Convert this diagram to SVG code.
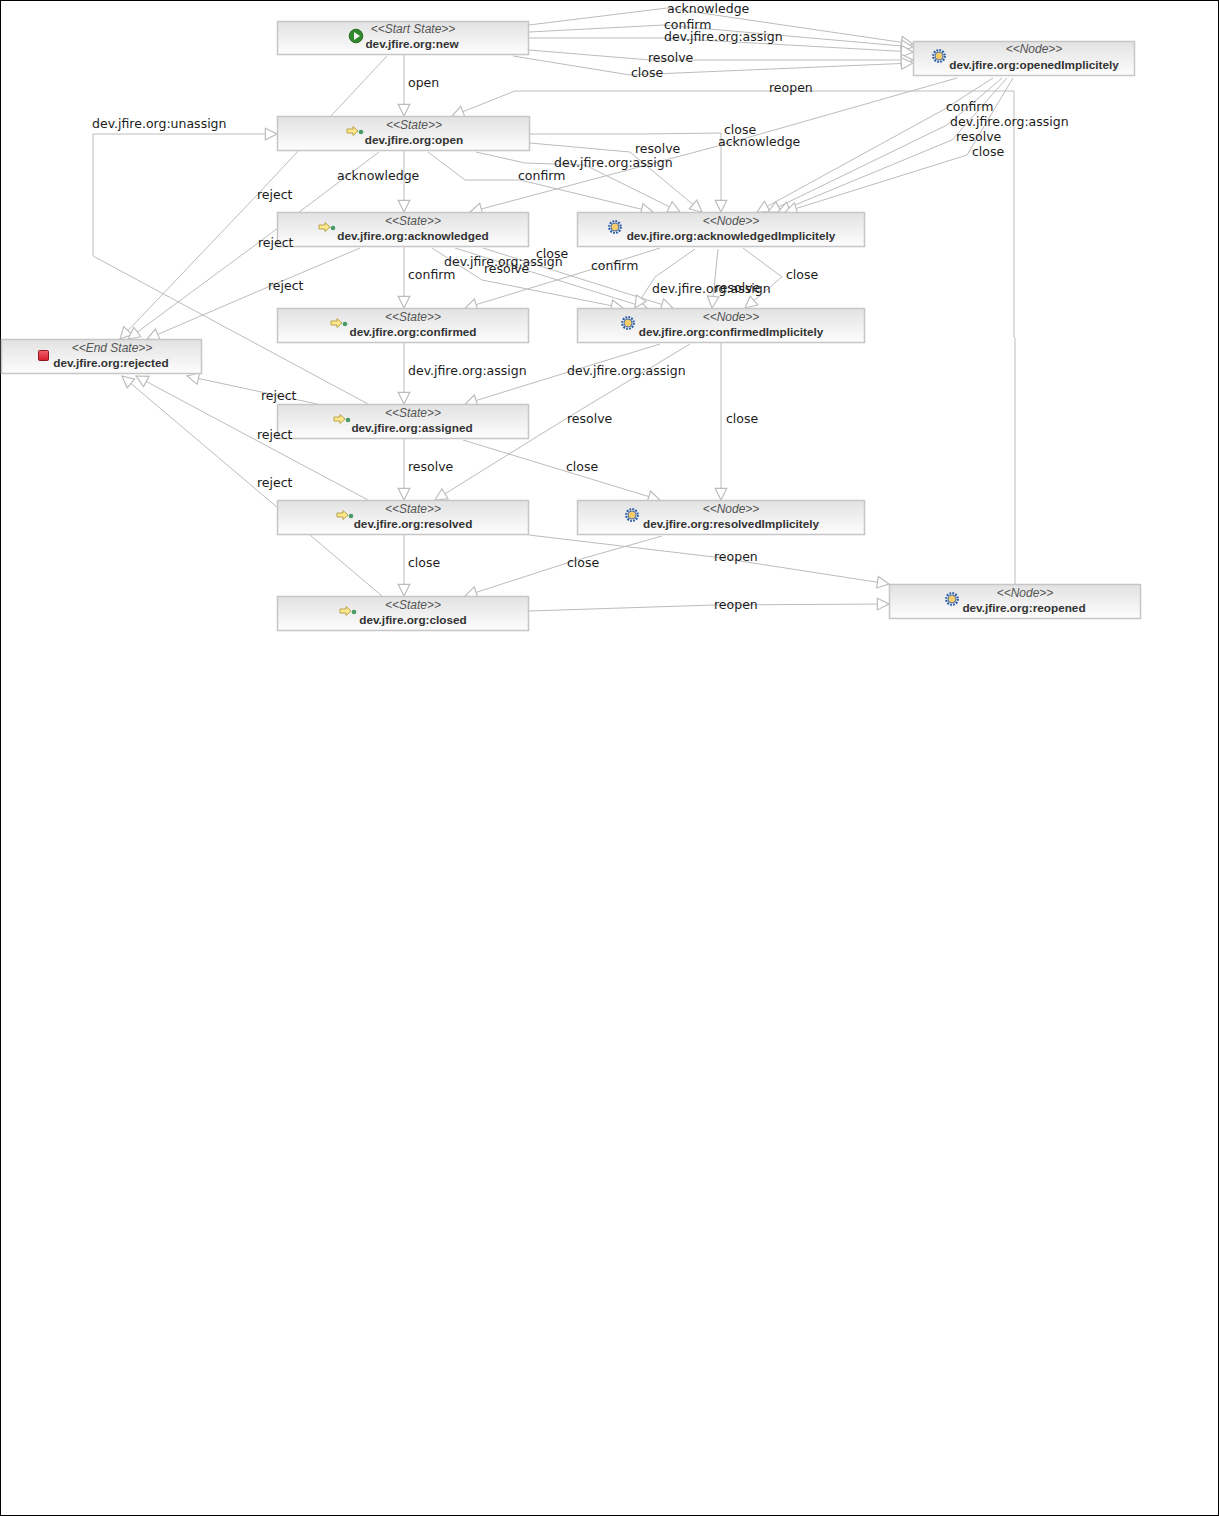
<svg xmlns="http://www.w3.org/2000/svg" xmlns:xlink="http://www.w3.org/1999/xlink" width="1219" height="1516" viewBox="0 0 1219 1516">
<style>
.n{fill:url(#g);stroke:#c6c6c6;stroke-width:1.5}
.s{font:italic 12px "Liberation Sans",Arial,sans-serif;fill:#555;text-anchor:middle}
.t{font:bold 11.750px "Liberation Sans",Arial,sans-serif;fill:#333;text-anchor:middle;transform:translateY(-1px)}
.l{font:12.500px "DejaVu Sans",sans-serif;fill:#1c1c1c}
#edges polyline{fill:none;stroke:#bcbcbc;stroke-width:1;marker-end:url(#a)}
</style>
<defs>
<linearGradient id="g" x1="0" y1="0" x2="0" y2="1"><stop offset="0" stop-color="#e2e2e2"/><stop offset="1" stop-color="#fdfdfd"/></linearGradient>
<linearGradient id="r" x1="0" y1="0" x2="0" y2="1"><stop offset="0" stop-color="#f0606a"/><stop offset="1" stop-color="#d81c2c"/></linearGradient>
<marker id="a" markerUnits="userSpaceOnUse" markerWidth="14" markerHeight="14" refX="11" refY="6" orient="auto" viewBox="0 0 12 12"><path d="M1 1L11 6L1 11Z" fill="#fff" stroke="#bcbcbc"/></marker>
<g id="start"><circle r="6.800" fill="#2f8a2f" stroke="#2a6a2a"/><path d="M-2-4L4 0L-2 4Z" fill="#f4f4f4"/></g>
<g id="state"><path d="M-7-2H-1V-4.500L4 0L-1 4.500V2H-7Z" fill="#fde98c" stroke="#a89030" stroke-width=".8"/><circle cx="7" cy="1" r="2.300" fill="#4a9a68"/></g>
<g id="node"><circle r="5.800" fill="none" stroke="#2a5ca8" stroke-width="2.200" stroke-dasharray="1.800 1.200"/><circle r="4" fill="#f6cc6a" stroke="#2a5ca8" stroke-width=".8"/></g>
<g id="end"><rect x="-5" y="-5" width="10" height="10" rx="1" fill="url(#r)" stroke="#8a1a22"/></g>
</defs>
<rect width="1219" height="1516" fill="#fff"/>
<rect x=".5" y=".5" width="1218" height="1515" fill="none" stroke="#000"/>
<g id="edges">
<polyline points="529,25 667,8 913,44"/>
<polyline points="529,32 664,25 913,47"/>
<polyline points="529,38 664,38 913,52"/>
<polyline points="529,50 650,60 913,60"/>
<polyline points="513,56 630,75 913,63"/>
<polyline points="404,55 404,116"/>
<polyline points="387,56 258,194 120,339"/>
<polyline points="1015,584 1015,338 1014,337 1014,91 515,91 452,116"/>
<polyline points="368,404 93,256 93,134 277,134"/>
<polyline points="530,134 640,134 721,133 721,212"/>
<polyline points="530,143 630,152 702,212"/>
<polyline points="476,152 525,163 585,165 680,212"/>
<polyline points="428,152 465,180 520,180 653,212"/>
<polyline points="404,151 404,212"/>
<polyline points="379,152 258,243 128,339"/>
<polyline points="957,78 718,146 470,212"/>
<polyline points="993,78 943,110 757,212"/>
<polyline points="1002,78 947,125 768,212"/>
<polyline points="1007,78 952,140 778,212"/>
<polyline points="1013,78 967,155 785,212"/>
<polyline points="404,247 404,308"/>
<polyline points="360,248 268,287 147,339"/>
<polyline points="432,248 482,280 623,308"/>
<polyline points="455,248 647,308"/>
<polyline points="483,248 673,308"/>
<polyline points="660,248 580,273 465,308"/>
<polyline points="695,249 655,277 635,308"/>
<polyline points="718,249 712,308"/>
<polyline points="743,248 782,277 745,308"/>
<polyline points="404,343 404,404"/>
<polyline points="660,344 565,373 465,404"/>
<polyline points="690,344 567,418 435,500"/>
<polyline points="721,343 721,500"/>
<polyline points="317,404 187,376"/>
<polyline points="404,439 404,500"/>
<polyline points="463,440 660,500"/>
<polyline points="368,500 136,376"/>
<polyline points="404,535 404,596"/>
<polyline points="529,535 714,557 889,584"/>
<polyline points="662,536 567,563 465,596"/>
<polyline points="382,596 122,376"/>
<polyline points="529,611 714,605 889,604"/>
</g>
<g id="new"><rect class="n" x="277.500" y="21.500" width="251" height="33"/><use href="#start" x="356" y="36"/><text class="s" x="413" y="33">&lt;&lt;Start State&gt;&gt;</text><text class="t" x="412" y="49">dev.jfire.org:new</text></g>
<g id="openedImplicitely"><rect class="n" x="913.500" y="41.500" width="221" height="34"/><use href="#node" x="939" y="56"/><text class="s" x="1034" y="53">&lt;&lt;Node&gt;&gt;</text><text class="t" x="1034" y="70">dev.jfire.org:openedImplicitely</text></g>
<g id="open"><rect class="n" x="277.500" y="116.500" width="252" height="34"/><use href="#state" x="354" y="131"/><text class="s" x="414" y="129">&lt;&lt;State&gt;&gt;</text><text class="t" x="414" y="145">dev.jfire.org:open</text></g>
<g id="acknowledged"><rect class="n" x="277.500" y="212.500" width="251" height="34"/><use href="#state" x="326" y="227"/><text class="s" x="413" y="225">&lt;&lt;State&gt;&gt;</text><text class="t" x="413" y="241">dev.jfire.org:acknowledged</text></g>
<g id="acknowledgedImplicitely"><rect class="n" x="577.500" y="212.500" width="287" height="34"/><use href="#node" x="615" y="227"/><text class="s" x="731" y="225">&lt;&lt;Node&gt;&gt;</text><text class="t" x="731" y="241">dev.jfire.org:acknowledgedImplicitely</text></g>
<g id="confirmed"><rect class="n" x="277.500" y="308.500" width="251" height="34"/><use href="#state" x="338" y="323"/><text class="s" x="413" y="321">&lt;&lt;State&gt;&gt;</text><text class="t" x="413" y="337">dev.jfire.org:confirmed</text></g>
<g id="confirmedImplicitely"><rect class="n" x="577.500" y="308.500" width="287" height="34"/><use href="#node" x="628" y="323"/><text class="s" x="731" y="321">&lt;&lt;Node&gt;&gt;</text><text class="t" x="731" y="337">dev.jfire.org:confirmedImplicitely</text></g>
<g id="rejected"><rect class="n" x="1.500" y="339.500" width="200" height="34"/><use href="#end" x="43.500" y="355.500"/><text class="s" x="112" y="352">&lt;&lt;End State&gt;&gt;</text><text class="t" x="111" y="368">dev.jfire.org:rejected</text></g>
<g id="assigned"><rect class="n" x="277.500" y="404.500" width="251" height="34"/><use href="#state" x="341" y="419"/><text class="s" x="413" y="417">&lt;&lt;State&gt;&gt;</text><text class="t" x="412" y="433">dev.jfire.org:assigned</text></g>
<g id="resolved"><rect class="n" x="277.500" y="500.500" width="251" height="34"/><use href="#state" x="344" y="515"/><text class="s" x="413" y="513">&lt;&lt;State&gt;&gt;</text><text class="t" x="413" y="529">dev.jfire.org:resolved</text></g>
<g id="resolvedImplicitely"><rect class="n" x="577.500" y="500.500" width="287" height="34"/><use href="#node" x="632" y="515"/><text class="s" x="731" y="513">&lt;&lt;Node&gt;&gt;</text><text class="t" x="731" y="529">dev.jfire.org:resolvedImplicitely</text></g>
<g id="closed"><rect class="n" x="277.500" y="596.500" width="251" height="34"/><use href="#state" x="347" y="611"/><text class="s" x="413" y="609">&lt;&lt;State&gt;&gt;</text><text class="t" x="413" y="625">dev.jfire.org:closed</text></g>
<g id="reopened"><rect class="n" x="889.500" y="584.500" width="251" height="34"/><use href="#node" x="952" y="599"/><text class="s" x="1025" y="597">&lt;&lt;Node&gt;&gt;</text><text class="t" x="1024" y="613">dev.jfire.org:reopened</text></g>
<g id="labels">
<text class="l" x="667" y="13">acknowledge</text>
<text class="l" x="664" y="29">confirm</text>
<text class="l" x="664" y="41">dev.jfire.org:assign</text>
<text class="l" x="648" y="62">resolve</text>
<text class="l" x="631" y="77">close</text>
<text class="l" x="408" y="87">open</text>
<text class="l" x="769" y="92">reopen</text>
<text class="l" x="946" y="111">confirm</text>
<text class="l" x="950" y="126">dev.jfire.org:assign</text>
<text class="l" x="956" y="141">resolve</text>
<text class="l" x="972" y="156">close</text>
<text class="l" x="92" y="128">dev.jfire.org:unassign</text>
<text class="l" x="724" y="134">close</text>
<text class="l" x="718" y="146">acknowledge</text>
<text class="l" x="635" y="153">resolve</text>
<text class="l" x="554" y="167">dev.jfire.org:assign</text>
<text class="l" x="518" y="180">confirm</text>
<text class="l" x="337" y="180">acknowledge</text>
<text class="l" x="257" y="199">reject</text>
<text class="l" x="258" y="247">reject</text>
<text class="l" x="536" y="258">close</text>
<text class="l" x="444" y="266">dev.jfire.org:assign</text>
<text class="l" x="484" y="273">resolve</text>
<text class="l" x="591" y="270">confirm</text>
<text class="l" x="408" y="279">confirm</text>
<text class="l" x="786" y="279">close</text>
<text class="l" x="268" y="290">reject</text>
<text class="l" x="652" y="293">dev.jfire.org:assign</text>
<text class="l" x="715" y="292">resolve</text>
<text class="l" x="408" y="375">dev.jfire.org:assign</text>
<text class="l" x="567" y="375">dev.jfire.org:assign</text>
<text class="l" x="261" y="400">reject</text>
<text class="l" x="567" y="423">resolve</text>
<text class="l" x="726" y="423">close</text>
<text class="l" x="257" y="439">reject</text>
<text class="l" x="408" y="471">resolve</text>
<text class="l" x="566" y="471">close</text>
<text class="l" x="257" y="487">reject</text>
<text class="l" x="714" y="561">reopen</text>
<text class="l" x="408" y="567">close</text>
<text class="l" x="567" y="567">close</text>
<text class="l" x="714" y="609">reopen</text>
</g>
</svg>
